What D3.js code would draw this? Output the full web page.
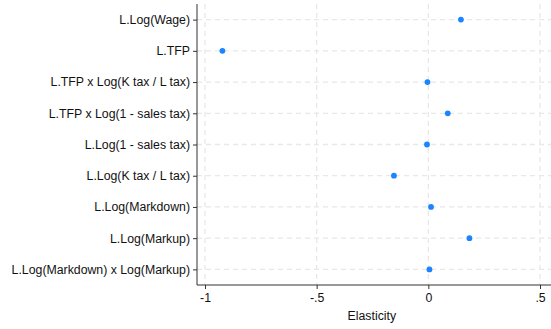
<!DOCTYPE html>
<html>
<head>
<meta charset="utf-8">
<script src="https://cdn.jsdelivr.net/npm/d3@7"></script>
<style>
  html, body { margin: 0; padding: 0; background: #fff; }
  svg { display: block; font-family: "Liberation Sans", Arial, sans-serif; }
</style>
</head>
<body>
<svg id="chart" width="551" height="329"></svg>
<script>
// Coefficient labels, top to bottom
const terms = [
  "L.Log(Wage)",
  "L.TFP",
  "L.TFP x Log(K tax / L tax)",
  "L.TFP x Log(1 - sales tax)",
  "L.Log(1 - sales tax)",
  "L.Log(K tax / L tax)",
  "L.Log(Markdown)",
  "L.Log(Markup)",
  "L.Log(Markdown) x Log(Markup)"
];
// Point estimates (elasticities)
const estimates = [0.146, -0.922, -0.004, 0.087, -0.006, -0.154, 0.012, 0.184, 0.005];
// X axis ticks and labels
const xTicks = [-1, -0.5, 0, 0.5];
const xTickLabels = ["-1", "-.5", "0", ".5"];
const xTitle = "Elasticity";

const svg = d3.select("#chart");
const W = 551, H = 329;
const plotLeft = 197, plotTop = 4, plotBottom = 285;
const fontSize = "12.3px";

const x = d3.scaleLinear().domain([-1, 0.5]).range([205, 540]);
const y = d3.scaleLinear().domain([0.5, terms.length + 0.5]).range([plotTop, plotBottom]);

const grid = svg.append("g");
// vertical gridlines
grid.selectAll("line.v").data(xTicks).join("line")
  .attr("class", "v")
  .attr("x1", d => x(d)).attr("x2", d => x(d))
  .attr("y1", plotTop).attr("y2", plotBottom)
  .attr("stroke", "#e8e8e8").attr("stroke-width", 1.3)
  .attr("stroke-dasharray", "5,4");
// horizontal gridlines
grid.selectAll("line.h").data(terms).join("line")
  .attr("class", "h")
  .attr("x1", plotLeft).attr("x2", W)
  .attr("y1", (d, i) => y(i + 1)).attr("y2", (d, i) => y(i + 1))
  .attr("stroke", "#e8e8e8").attr("stroke-width", 1.3)
  .attr("stroke-dasharray", "5,4");

// left axis
const yAxis = d3.axisLeft(y)
  .tickValues(d3.range(1, terms.length + 1))
  .tickFormat(d => terms[d - 1])
  .tickSize(4).tickSizeOuter(0).tickPadding(3);
const gy = svg.append("g").attr("transform", `translate(${plotLeft},0)`).call(yAxis);
gy.select(".domain").attr("stroke", "#333").attr("d", `M0,${plotTop}V${plotBottom}`);
gy.selectAll(".tick line").attr("stroke", "#333");
gy.selectAll(".tick text").attr("fill", "#111").style("font-size", fontSize)
  .style("font-family", "Liberation Sans, Arial, sans-serif");

// bottom axis
const xAxis = d3.axisBottom(x)
  .tickValues(xTicks)
  .tickFormat((d, i) => xTickLabels[i])
  .tickSize(4).tickSizeOuter(0).tickPadding(4);
const gx = svg.append("g").attr("transform", `translate(0,${plotBottom})`).call(xAxis);
gx.select(".domain").attr("stroke", "#333").attr("d", `M${plotLeft},0H${W}`);
gx.selectAll(".tick line").attr("stroke", "#333");
gx.selectAll(".tick text").attr("fill", "#111").style("font-size", fontSize)
  .style("font-family", "Liberation Sans, Arial, sans-serif");

svg.append("text")
  .attr("x", x(0) - 56.5).attr("y", 320)
  .attr("text-anchor", "middle")
  .attr("fill", "#111").style("font-size", fontSize)
  .text(xTitle);

// point estimates
svg.append("g").selectAll("circle").data(estimates).join("circle")
  .attr("cx", d => x(d))
  .attr("cy", (d, i) => y(i + 1))
  .attr("r", 2.9)
  .attr("fill", "#1a85ff");
</script>
</body>
</html>
